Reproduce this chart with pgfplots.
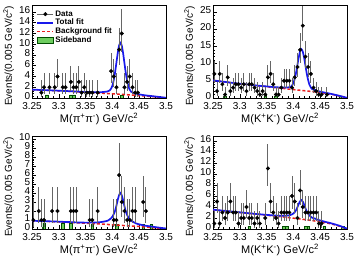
\documentclass[border=0pt]{standalone}
\usepackage{fontspec}
\setmainfont{Liberation Sans}
\usepackage{pgfplots}
\pgfplotsset{compat=1.18}
\usepackage{pgfplotstable}

\definecolor{fitblue}{RGB}{25,25,235}
\definecolor{bkgred}{RGB}{235,30,30}
\definecolor{sbgreen}{RGB}{110,205,95}

% ---------------- data: x, counts, Poisson errors (+/-) ----------------
\pgfplotstableread{
x y ep em
3.2675 1 2.300 0.827
3.2725 2 2.638 1.292
3.2825 2 2.638 1.292
3.2925 2 2.638 1.292
3.2975 4 3.163 1.914
3.3075 2 2.638 1.292
3.3125 2 2.638 1.292
3.3225 3 2.918 1.633
3.3275 2 2.638 1.292
3.3325 2 2.638 1.292
3.3375 3 2.918 1.633
3.3425 1 2.300 0.827
3.3475 2 2.638 1.292
3.3525 1 2.300 0.827
3.3575 1 2.300 0.827
3.3625 1 2.300 0.827
3.3725 1 2.300 0.827
3.3975 5 3.382 2.160
3.4025 4 3.163 1.914
3.4075 2 2.638 1.292
3.4125 9 4.110 2.943
3.4175 12 4.559 3.415
3.4225 2 2.638 1.292
3.4275 3 2.918 1.633
3.4325 4 3.163 1.914
3.4375 2 2.638 1.292
3.4425 1 2.300 0.827
3.4475 1 2.300 0.827
}\dataA
\pgfplotstableread{
x y ep em
3.2525 7 3.770 2.581
3.2575 2 2.638 1.292
3.2625 7 3.770 2.581
3.2675 4 3.163 1.914
3.2725 1 2.300 0.827
3.2775 6 3.584 2.380
3.2825 2 2.638 1.292
3.2875 3 2.918 1.633
3.2925 4 3.163 1.914
3.2975 4 3.163 1.914
3.3025 3 2.918 1.633
3.3075 4 3.163 1.914
3.3125 2 2.638 1.292
3.3175 4 3.163 1.914
3.3225 4 3.163 1.914
3.3275 3 2.918 1.633
3.3325 2 2.638 1.292
3.3375 1 2.300 0.827
3.3425 2 2.638 1.292
3.3475 1 2.300 0.827
3.3525 6 3.584 2.380
3.3575 7 3.770 2.581
3.3625 4 3.163 1.914
3.3675 1 2.300 0.827
3.3725 1 2.300 0.827
3.3775 3 2.918 1.633
3.3825 5 3.382 2.160
3.3875 5 3.382 2.160
3.3925 5 3.382 2.160
3.3975 3 2.918 1.633
3.4025 6 3.584 2.380
3.4075 9 4.110 2.943
3.4125 14 4.830 3.699
3.4175 21 5.650 4.540
3.4225 12 4.559 3.415
3.4275 9 4.110 2.943
3.4325 7 3.770 2.581
3.4375 3 2.918 1.633
3.4425 2 2.638 1.292
3.4475 1 2.300 0.827
3.4525 1 2.300 0.827
3.4625 1 2.300 0.827
}\dataB
\pgfplotstableread{
x y ep em
3.2525 1 2.300 0.827
3.2625 2 2.638 1.292
3.2675 1 2.300 0.827
3.2725 1 2.300 0.827
3.2875 2 2.638 1.292
3.2975 2 2.638 1.292
3.3225 2 2.638 1.292
3.3275 2 2.638 1.292
3.3325 2 2.638 1.292
3.3575 1 2.300 0.827
3.3625 1 2.300 0.827
3.3725 2 2.638 1.292
3.4025 1 2.300 0.827
3.4075 1 2.300 0.827
3.4125 6 3.584 2.380
3.4175 3 2.918 1.633
3.4225 2 2.638 1.292
3.4275 1 2.300 0.827
3.4325 1 2.300 0.827
3.4375 2 2.638 1.292
3.4425 2 2.638 1.292
3.4575 3 2.918 1.633
3.4625 2 2.638 1.292
}\dataC
\pgfplotstableread{
x y ep em
3.2525 1 2.300 0.827
3.2575 5 3.382 2.160
3.2625 1 2.300 0.827
3.2675 3 2.918 1.633
3.2725 2 2.638 1.292
3.2775 3 2.918 1.633
3.2825 5 3.382 2.160
3.2875 3 2.918 1.633
3.2925 3 2.918 1.633
3.2975 1 2.300 0.827
3.3025 2 2.638 1.292
3.3075 2 2.638 1.292
3.3125 4 3.163 1.914
3.3175 2 2.638 1.292
3.3225 2 2.638 1.292
3.3275 1 2.300 0.827
3.3325 2 2.638 1.292
3.3375 1 2.300 0.827
3.3475 2 2.638 1.292
3.3525 11 4.416 3.266
3.3575 5 3.382 2.160
3.3625 3 2.918 1.633
3.3675 2 2.638 1.292
3.3725 1 2.300 0.827
3.3775 3 2.918 1.633
3.3825 3 2.918 1.633
3.3875 3 2.918 1.633
3.3925 3 2.918 1.633
3.3975 6 3.584 2.380
3.4025 5 3.382 2.160
3.4075 2 2.638 1.292
3.4125 7 3.770 2.581
3.4175 4 3.163 1.914
3.4225 3 2.918 1.633
3.4275 3 2.918 1.633
3.4325 3 2.918 1.633
3.4375 3 2.918 1.633
3.4425 3 2.918 1.633
3.4475 1 2.300 0.827
3.4525 1 2.300 0.827
}\dataD

% ---------------- fit curves: x, background, total ----------------
\pgfplotstableread{
x bkg tot
3.25 1.55 1.56
3.26 1.51 1.52
3.27 1.47 1.48
3.28 1.43 1.45
3.29 1.38 1.40
3.30 1.34 1.36
3.31 1.29 1.31
3.32 1.24 1.27
3.33 1.19 1.22
3.34 1.13 1.17
3.35 1.08 1.13
3.36 1.02 1.10
3.37 0.96 1.07
3.38 0.90 1.09
3.39 0.84 1.20
3.3925 0.82 1.29
3.395 0.81 1.41
3.3975 0.79 1.74
3.4 0.78 2.30
3.4025 0.76 3.34
3.405 0.75 4.76
3.4075 0.73 6.58
3.41 0.72 8.38
3.4125 0.70 9.77
3.415 0.69 10.27
3.4175 0.67 9.74
3.42 0.66 8.32
3.4225 0.64 6.48
3.425 0.62 4.64
3.4275 0.61 3.18
3.43 0.59 2.11
3.4325 0.57 1.52
3.435 0.56 1.16
3.44 0.52 0.95
3.445 0.49 0.80
3.45 0.45 0.67
3.46 0.38 0.51
3.47 0.30 0.39
3.48 0.21 0.28
3.49 0.11 0.16
3.5 0.00 0.04
}\fitA
\pgfplotstableread{
x bkg tot
3.25 5.10 5.11
3.26 4.90 4.91
3.27 4.70 4.72
3.28 4.50 4.52
3.29 4.30 4.32
3.30 4.10 4.13
3.31 3.95 3.98
3.32 3.80 3.83
3.33 3.60 3.64
3.34 3.45 3.50
3.35 3.30 3.37
3.36 3.10 3.21
3.37 2.95 3.10
3.38 2.80 3.05
3.39 2.60 3.08
3.3925 2.56 3.12
3.395 2.52 3.26
3.3975 2.48 3.64
3.4 2.44 4.32
3.4025 2.40 5.60
3.405 2.36 7.36
3.4075 2.32 9.60
3.41 2.28 11.84
3.4125 2.24 13.55
3.415 2.20 14.16
3.4175 2.16 13.47
3.42 2.12 11.68
3.4225 2.08 9.36
3.425 2.04 7.04
3.4275 2.00 5.20
3.43 1.96 3.83
3.4325 1.91 3.07
3.435 1.87 2.61
3.44 1.78 2.30
3.445 1.68 2.05
3.45 1.58 1.85
3.46 1.36 1.52
3.47 1.10 1.21
3.48 0.78 0.85
3.49 0.42 0.48
3.5 0.00 0.05
}\fitB
\pgfplotstableread{
x bkg tot
3.25 0.90 0.91
3.26 0.88 0.90
3.27 0.86 0.88
3.28 0.84 0.86
3.29 0.81 0.84
3.30 0.79 0.82
3.31 0.76 0.79
3.32 0.73 0.77
3.33 0.70 0.74
3.34 0.67 0.72
3.35 0.64 0.71
3.36 0.61 0.71
3.37 0.58 0.73
3.38 0.55 0.78
3.39 0.51 0.90
3.3925 0.50 0.97
3.395 0.49 1.07
3.3975 0.48 1.20
3.4 0.47 1.37
3.4025 0.46 1.65
3.405 0.45 2.03
3.4075 0.44 2.60
3.41 0.43 3.24
3.4125 0.42 3.77
3.415 0.41 4.01
3.4175 0.40 3.75
3.42 0.39 3.20
3.4225 0.38 2.54
3.425 0.37 1.95
3.4275 0.36 1.55
3.43 0.35 1.25
3.4325 0.34 1.06
3.435 0.33 0.91
3.44 0.32 0.75
3.445 0.30 0.60
3.45 0.28 0.52
3.46 0.23 0.38
3.47 0.18 0.30
3.48 0.12 0.21
3.49 0.06 0.13
3.5 0.00 0.06
}\fitC
\pgfplotstableread{
x bkg tot
3.25 3.50 3.51
3.26 3.40 3.42
3.27 3.30 3.32
3.28 3.20 3.22
3.29 3.10 3.12
3.30 3.00 3.03
3.31 2.90 2.93
3.32 2.80 2.84
3.33 2.70 2.74
3.34 2.60 2.65
3.35 2.50 2.57
3.36 2.40 2.49
3.37 2.30 2.43
3.38 2.20 2.41
3.39 2.08 2.45
3.3925 2.05 2.49
3.395 2.03 2.56
3.3975 2.00 2.67
3.4 1.97 2.82
3.4025 1.94 3.07
3.405 1.91 3.42
3.4075 1.88 3.95
3.41 1.85 4.55
3.4125 1.82 5.05
3.415 1.79 5.26
3.4175 1.76 4.99
3.42 1.73 4.43
3.4225 1.70 3.76
3.425 1.66 3.17
3.4275 1.63 2.76
3.43 1.60 2.44
3.4325 1.56 2.23
3.435 1.53 2.05
3.44 1.46 1.90
3.445 1.38 1.70
3.45 1.30 1.55
3.46 1.13 1.29
3.47 0.93 1.05
3.48 0.68 0.77
3.49 0.38 0.45
3.5 0.00 0.06
}\fitD

% ---------------- sideband histograms ----------------
\pgfplotstableread{
x y
3.2775 0.6
3.3225 0.6
3.3275 0.6
3.4175 0.6
}\sbA
\pgfplotstableread{
x y
3.2725 0.6
3.3475 0.6
3.3675 0.6
3.4875 0.6
}\sbB
\pgfplotstableread{
x y
3.2725 0.7
3.3075 0.7
3.3225 0.7
3.3625 0.5
3.4075 0.5
3.4575 0.5
3.4725 0.5
}\sbC
\pgfplotstableread{
x y
3.3175 0.5
3.3825 0.5
3.3875 0.5
3.4225 0.5
3.4275 0.5
3.4575 0.5
3.4925 0.5
}\sbD

\pgfplotsset{
  rootaxis/.style={
    scale only axis, width=134pt, height=93pt,
    xmin=3.25, xmax=3.5, ymin=0,
    xtick={3.25,3.30,3.35,3.40,3.45,3.50},
    xticklabels={3.25,3.3,3.35,3.4,3.45,3.5},
    minor x tick num=4, minor y tick num=4,
    tick align=inside, tick pos=left,
    major tick length=4pt, minor tick length=2pt,
    tick style={black, line width=0.5pt},
    axis line style={line width=0.6pt},
    tick label style={font=\fontsize{10}{11}\selectfont},
    yticklabel style={inner sep=1.5pt, yshift=1.6pt},
    xticklabel style={inner sep=1pt, yshift=-3.4pt},
    label style={font=\fontsize{11}{13}\selectfont},
    /pgf/number format/assume math mode=true,
    ylabel={Events/(0.005 GeV/c\textsuperscript{2})},
    ylabel style={at={(axis description cs:-0.175,1.03)}, anchor=east,
      font=\fontsize{10}{12}\selectfont},
    xlabel style={at={(axis description cs:0.5,-0.23)}, anchor=center},
  },
  sideband/.style={ybar, bar width=0.005, fill=sbgreen, draw=black!70!green, line width=0.4pt, forget plot},
  bkgfit/.style={bkgred, dashed, dash pattern=on 3pt off 2pt, line width=1.5pt, smooth, tension=0.4, forget plot},
  totfit/.style={fitblue, line width=1.7pt, smooth, tension=0.4, forget plot},
  datapts/.style={only marks, mark=*, mark size=1.8pt, black, forget plot,
    error bars/.cd, y dir=both, y explicit,
    error bar style={black!60, line width=0.9pt}, error mark=none},
}

\begin{document}
\begin{tikzpicture}
\useasboundingbox (0,0) rectangle (354pt,260pt);

% top left: pi+ pi-
\begin{axis}[rootaxis, at={(32pt,162pt)}, anchor=south west,
  ymax=17.3, ytick={0,2,...,16},
  xlabel={M(π\textsuperscript{+}π\textsuperscript{-}) GeV/c\textsuperscript{2}},
  legend style={at={(axis description cs:0.025,0.965)}, anchor=north west,
    draw=none, fill=none, font=\bfseries\fontsize{8}{9.5}\selectfont,
    row sep=-1pt, inner sep=1pt,
    nodes={inner sep=1.2pt}},
  legend cell align=left]
\addlegendimage{legend image code/.code={%
    \draw[black!60, line width=0.9pt] (0pt,0pt) -- (16pt,0pt);
    \fill[black] (8pt,0pt) circle (1.8pt);}}
\addlegendimage{legend image code/.code={%
    \draw[fitblue, line width=1.7pt] (0pt,0pt) -- (16pt,0pt);}}
\addlegendimage{legend image code/.code={%
    \draw[bkgred, dash pattern=on 3pt off 2pt, line width=1.5pt] (0pt,0pt) -- (16pt,0pt);}}
\addlegendimage{legend image code/.code={%
    \draw[fill=sbgreen, draw=black!70!green] (0pt,-3pt) rectangle (16pt,3pt);}}
\legend{Data, Total fit, Background fit, Sideband}
\addplot[sideband] table[x=x, y=y] {\sbA};
\addplot[bkgfit] table[x=x, y=bkg] {\fitA};
\addplot[totfit] table[x=x, y=tot] {\fitA};
\addplot[datapts] table[x=x, y=y, y error plus=ep, y error minus=em] {\dataA};
\end{axis}

% top right: K+ K-
\begin{axis}[rootaxis, at={(213pt,162pt)}, anchor=south west,
  ymax=27, ytick={0,5,...,25},
  xlabel={M(K\textsuperscript{+}K\textsuperscript{-}) GeV/c\textsuperscript{2}}]
\addplot[sideband] table[x=x, y=y] {\sbB};
\addplot[bkgfit] table[x=x, y=bkg] {\fitB};
\addplot[totfit] table[x=x, y=tot] {\fitB};
\addplot[datapts] table[x=x, y=y, y error plus=ep, y error minus=em] {\dataB};
\end{axis}

% bottom left: pi+ pi-
\begin{axis}[rootaxis, at={(32pt,31pt)}, anchor=south west,
  ymax=10.35, ytick={0,1,...,10},
  xlabel={M(π\textsuperscript{+}π\textsuperscript{-}) GeV/c\textsuperscript{2}}]
\addplot[sideband] table[x=x, y=y] {\sbC};
\addplot[bkgfit] table[x=x, y=bkg] {\fitC};
\addplot[totfit] table[x=x, y=tot] {\fitC};
\addplot[datapts] table[x=x, y=y, y error plus=ep, y error minus=em] {\dataC};
\end{axis}

% bottom right: K+ K-
\begin{axis}[rootaxis, at={(213pt,31pt)}, anchor=south west,
  ymax=16.9, ytick={0,2,...,16},
  xlabel={M(K\textsuperscript{+}K\textsuperscript{-}) GeV/c\textsuperscript{2}}]
\addplot[sideband] table[x=x, y=y] {\sbD};
\addplot[bkgfit] table[x=x, y=bkg] {\fitD};
\addplot[totfit] table[x=x, y=tot] {\fitD};
\addplot[datapts] table[x=x, y=y, y error plus=ep, y error minus=em] {\dataD};
\end{axis}
\end{tikzpicture}
\end{document}
